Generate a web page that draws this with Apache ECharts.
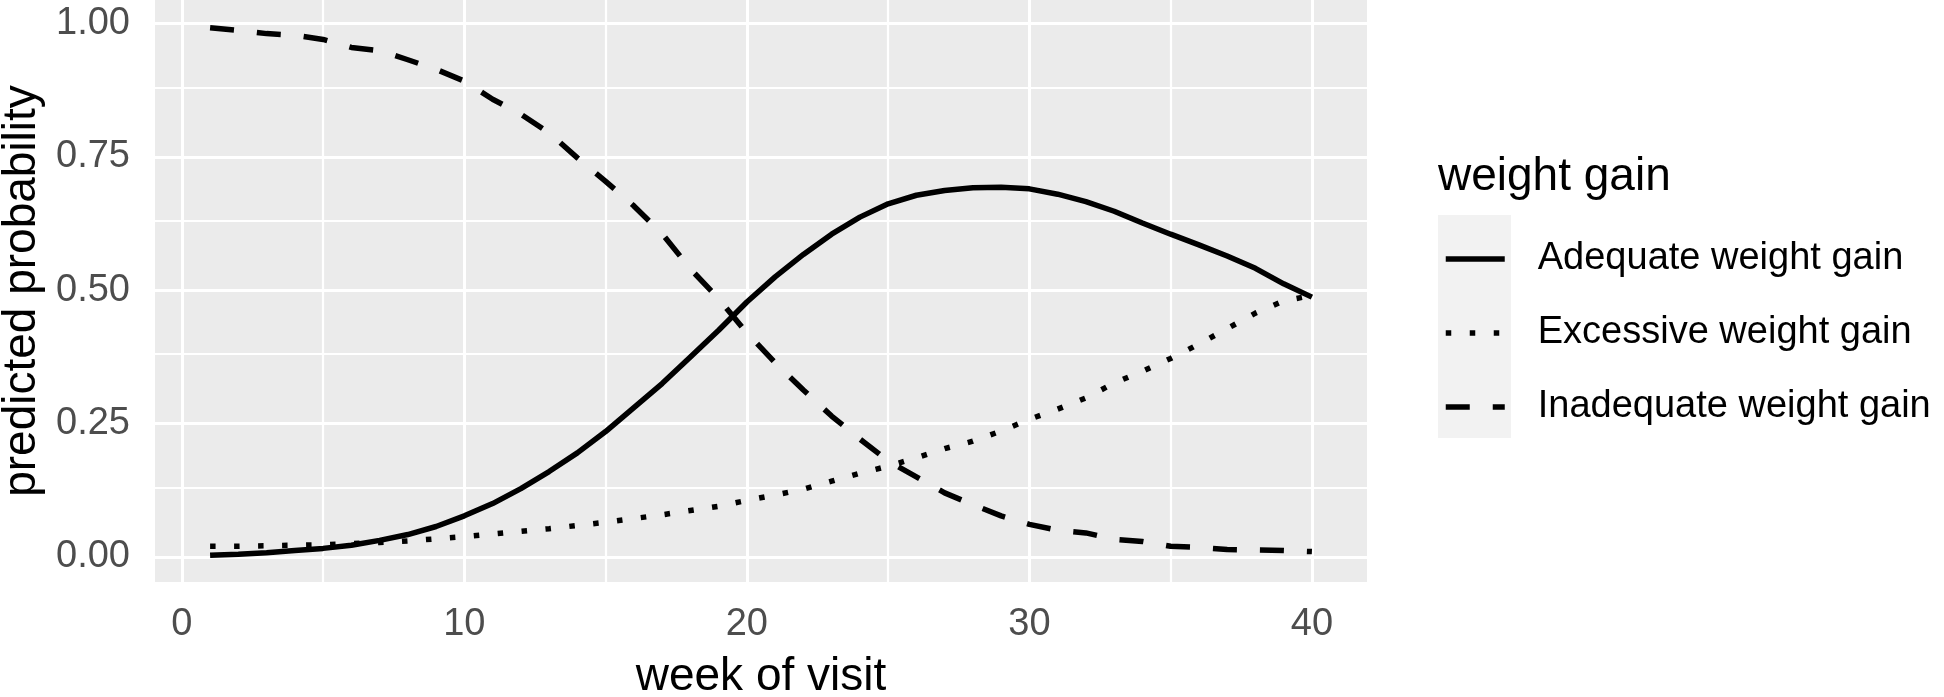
<!DOCTYPE html>
<html><head><meta charset="utf-8">
<script src="https://cdn.jsdelivr.net/npm/echarts@6/dist/echarts.min.js"></script>
<style>html,body{margin:0;padding:0;background:#fff}#c{width:1944px;height:697px}</style>
</head><body><div id="c"></div>
<script>
const weeks = [1,2,3,4,5,6,7,8,9,10,11,12,13,14,15,16,17,18,19,20,21,22,23,24,25,26,27,28,29,30,31,32,33,34,35,36,37,38,39,40];
const adequate = [0.003,0.005,0.008,0.012,0.016,0.022,0.031,0.042,0.057,0.077,0.100,0.128,0.160,0.195,0.235,0.280,0.325,0.375,0.425,0.478,0.525,0.567,0.605,0.637,0.662,0.678,0.687,0.692,0.693,0.690,0.680,0.666,0.648,0.626,0.605,0.585,0.564,0.541,0.512,0.487];
const excessive = [0.020,0.020,0.021,0.022,0.023,0.025,0.027,0.030,0.034,0.038,0.043,0.048,0.053,0.059,0.065,0.072,0.079,0.087,0.095,0.106,0.116,0.127,0.142,0.157,0.170,0.186,0.203,0.217,0.236,0.258,0.277,0.298,0.326,0.348,0.372,0.399,0.428,0.457,0.480,0.490];
const inadequate = [0.992,0.987,0.981,0.978,0.970,0.955,0.949,0.932,0.914,0.892,0.858,0.830,0.795,0.748,0.704,0.658,0.606,0.540,0.484,0.420,0.364,0.313,0.264,0.221,0.180,0.150,0.120,0.098,0.077,0.061,0.050,0.045,0.033,0.029,0.020,0.018,0.014,0.013,0.012,0.010];
const seriesNames = ['Adequate weight gain','Excessive weight gain','Inadequate weight gain'];
const xTicks = [0,10,20,30,40];
const xMinor = [5,15,25,35];
const yTicks = [0,0.25,0.5,0.75,1];
const yMinor = [0.125,0.375,0.625,0.875];
const xTitle = 'week of visit';
const yTitle = 'predicted probability';
const legendTitle = 'weight gain';

const FONT = '"Liberation Sans", Arial, sans-serif';
const chart = echarts.init(document.getElementById('c'), null, {renderer:'canvas'});
const gridMarks = [].concat(
  xMinor.map(v => ({xAxis: v, lineStyle: {width: 2.2}})),
  yMinor.map(v => ({yAxis: v, lineStyle: {width: 2.2}})),
  xTicks.map(v => ({xAxis: v, lineStyle: {width: 3}})),
  yTicks.map(v => ({yAxis: v, lineStyle: {width: 3}}))
);
function pairs(vals){ return weeks.map((w,i) => [w, vals[i]]); }
function lineSeries(name, vals, type){
  return {name: name, type: 'line', data: pairs(vals), showSymbol: false, symbol: 'none', z: 3,
    lineStyle: {color: '#000', width: 5.5, type: type, cap: 'butt'}, itemStyle: {color: '#000'},
    emphasis: {disabled: true}};
}
const option = {
  animation: false,
  backgroundColor: '#fff',
  grid: {left: 155, right: 577, top: 0, bottom: 115, show: true, backgroundColor: '#EBEBEB', borderWidth: 0,
    containLabel: false, outerBoundsMode: 'none'},
  xAxis: {type: 'value', min: -0.95, max: 41.95, name: xTitle, nameLocation: 'middle', nameGap: 72,
    nameTextStyle: {fontSize: 46, color: '#000', fontFamily: FONT},
    axisLine: {show: false}, splitLine: {show: false},
    axisTick: {show: true, length: 11, lineStyle: {color: '#333', width: 2.5}, customValues: xTicks},
    axisLabel: {customValues: xTicks, margin: 24, fontSize: 38, color: '#4D4D4D', fontFamily: FONT}},
  yAxis: {type: 'value', min: -0.047, max: 1.044, name: yTitle, nameLocation: 'middle', nameGap: 92, nameRotate: 90,
    nameTextStyle: {fontSize: 46, color: '#000', fontFamily: FONT},
    axisLine: {show: false}, splitLine: {show: false},
    axisTick: {show: true, length: 11, lineStyle: {color: '#333', width: 2.5}, customValues: yTicks},
    axisLabel: {customValues: yTicks, margin: 25, fontSize: 38, color: '#4D4D4D', fontFamily: FONT,
      formatter: v => Number(v).toFixed(2)}},
  legend: {orient: 'vertical', left: 1443, top: 240, padding: 0, itemWidth: 59, itemHeight: 20, itemGap: 36,
    selectedMode: false, data: seriesNames,
    textStyle: {fontSize: 38, color: '#000', fontFamily: FONT, lineHeight: 38, padding: [0, 0, 0, 28]},
    itemStyle: {opacity: 0, borderWidth: 0},
    lineStyle: {width: 5.5, opacity: 1}},
  graphic: [
    {type: 'rect', left: 1438, top: 215, shape: {width: 73, height: 223}, style: {fill: '#F2F2F2'}, z: 0, silent: true},
    {type: 'text', left: 1438, top: 154, style: {text: legendTitle, fontSize: 46, fontFamily: FONT, fill: '#000'}, silent: true}
  ],
  series: [
    {type: 'line', data: [], silent: true, z: 1,
      markLine: {silent: true, z: 1, animation: false, symbol: ['none', 'none'], label: {show: false},
        lineStyle: {color: '#fff', type: 'solid'}, emphasis: {disabled: true}, data: gridMarks}},
    lineSeries(seriesNames[0], adequate, 'solid'),
    lineSeries(seriesNames[1], excessive, [5.5, 18.5]),
    lineSeries(seriesNames[2], inadequate, [24, 23])
  ]
};
chart.setOption(option);
</script></body></html>
